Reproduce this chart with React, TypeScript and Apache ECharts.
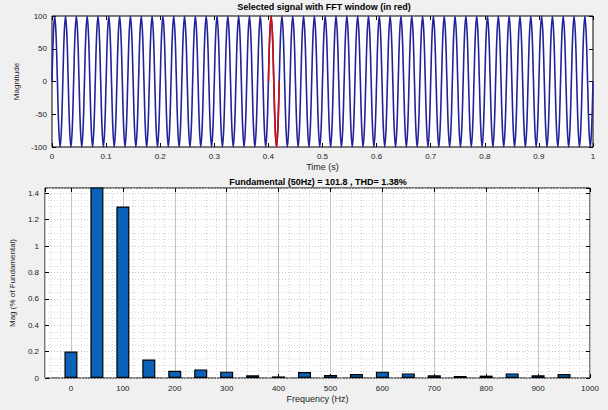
import React, { useEffect, useRef } from "react";
import * as echarts from "echarts";

// ---- Top plot: selected signal (50 Hz, 1 s) ----
const timeMin = 0;
const timeMax = 1;
const cycleShape = [0, 71, 100, 71, 0, -71, -100, -71]; // one cycle
const cycles = 50;
const fftWindowStartCycle = 20; // red window starts at 0.4 s
const fftWindowCycles = 1;
const magTicks = [-100, -50, 0, 50, 100];

// ---- Bottom plot: harmonic spectrum ----
const harmonicFreqs = [0, 50, 100, 150, 200, 250, 300, 350, 400, 450, 500, 550, 600, 650, 700, 750, 800, 850, 900, 950];
const harmonicMags = [0.2, 100, 1.3, 0.14, 0.055, 0.065, 0.048, 0.02, 0.012, 0.045, 0.022, 0.03, 0.048, 0.035, 0.02, 0.015, 0.018, 0.035, 0.02, 0.03];
const freqMin = -50;
const freqMax = 1000;
const harmMax = 1.44;

const topTitle = "Selected signal with FFT window (in red)";
const bottomTitle = "Fundamental (50Hz) = 101.8 , THD= 1.38%";

export default function App() {
  const ref = useRef<HTMLDivElement>(null);
  useEffect(() => {
    if (!ref.current) return;
    const chart = echarts.init(ref.current, undefined, { renderer: "svg" });
    const n = cycleShape.length;
    const step = (timeMax - timeMin) / (cycles * n);
    const signal: number[][] = [];
    const windowData: number[][] = [];
    for (let c = 0; c < cycles; c++) {
      for (let k = 0; k < n; k++) {
        const t = +(timeMin + (c * n + k) * step).toFixed(6);
        signal.push([t, cycleShape[k]]);
        if (c >= fftWindowStartCycle && c < fftWindowStartCycle + fftWindowCycles) windowData.push([t, cycleShape[k]]);
      }
    }
    signal.push([timeMax, cycleShape[0]]);
    windowData.push([+(timeMin + (fftWindowStartCycle + fftWindowCycles) * n * step).toFixed(6), cycleShape[0]]);

    const font = "Liberation Sans, Arial, sans-serif";
    const lbl = { fontSize: 8, color: "#222", fontFamily: font };
    const tick = { inside: true, length: 4, lineStyle: { color: "#000", width: 1 } };
    const noLine = { show: false, onZero: false };

    chart.setOption({
      animation: false,
      backgroundColor: "#f0f0f0",
      textStyle: { fontFamily: font },
      grid: [
        { left: 52, top: 16, width: 541, height: 131, show: true, backgroundColor: "#fff", borderColor: "#000", borderWidth: 1 },
        { left: 45, top: 188, width: 545, height: 190, show: true, backgroundColor: "#fff", borderColor: "#000", borderWidth: 1 },
      ],
      xAxis: [
        {
          type: "value", gridIndex: 0, min: timeMin, max: timeMax, interval: 0.1,
          axisLine: noLine, axisTick: tick,
          axisLabel: { ...lbl, margin: 5, formatter: (v: number) => String(+v.toFixed(1)) },
          splitLine: { show: false },
          name: "Time (s)", nameLocation: "middle", nameGap: 15,
          nameTextStyle: { fontSize: 9, color: "#222", fontFamily: font },
        },
        {
          type: "value", gridIndex: 0, position: "top", min: timeMin, max: timeMax, interval: 0.1,
          axisLine: noLine, axisTick: tick, axisLabel: { show: false }, splitLine: { show: false },
        },
        {
          type: "value", gridIndex: 1, min: freqMin, max: freqMax, splitNumber: 10,
          axisLine: noLine, axisTick: tick,
          axisLabel: { ...lbl, margin: 6, showMinLabel: false, formatter: (v: number) => (v < 0 ? "" : String(v)) },
          splitLine: { show: true, lineStyle: { color: "#c4c4c4", width: 1 } },
          minorTick: { show: false, splitNumber: 5 },
          minorSplitLine: { show: true, lineStyle: { color: "#d4d4d4", type: [1, 2], width: 1 } },
          name: "Frequency (Hz)", nameLocation: "middle", nameGap: 16,
          nameTextStyle: { fontSize: 9, color: "#222", fontFamily: font },
        },
        {
          type: "value", gridIndex: 1, position: "top", min: freqMin, max: freqMax, splitNumber: 10,
          axisLine: noLine, axisTick: tick, axisLabel: { show: false }, splitLine: { show: false },
        },
      ],
      yAxis: [
        {
          type: "value", gridIndex: 0, min: magTicks[0], max: magTicks[magTicks.length - 1], interval: 50,
          axisLine: noLine, axisTick: tick, axisLabel: { ...lbl, margin: 5 },
          splitLine: { show: false },
          name: "Magnitude", nameLocation: "middle", nameGap: 30,
          nameTextStyle: { fontSize: 8, color: "#222", fontFamily: font },
        },
        {
          type: "value", gridIndex: 0, position: "right", min: magTicks[0], max: magTicks[magTicks.length - 1], interval: 50,
          axisLine: noLine, axisTick: tick, axisLabel: { show: false }, splitLine: { show: false },
        },
        {
          type: "value", gridIndex: 1, min: 0, max: harmMax, interval: 0.2,
          axisLine: noLine, axisTick: tick,
          axisLabel: { ...lbl, margin: 6, showMaxLabel: false, formatter: (v: number) => (Math.abs(v * 5 - Math.round(v * 5)) < 1e-6 ? String(+v.toFixed(1)) : "") },
          splitLine: { show: true, lineStyle: { color: "#c8c8c8", type: [1, 2], width: 1 } },
          minorTick: { show: false, splitNumber: 4 },
          minorSplitLine: { show: true, lineStyle: { color: "#d8d8d8", type: [1, 2], width: 1 } },
          name: "Mag (% of Fundamental)", nameLocation: "middle", nameGap: 28,
          nameTextStyle: { fontSize: 8, color: "#222", fontFamily: font },
        },
        {
          type: "value", gridIndex: 1, position: "right", min: 0, max: harmMax, interval: 0.2,
          axisLine: noLine, axisTick: tick, axisLabel: { show: false }, splitLine: { show: false },
        },
      ],
      graphic: [
        { type: "text", x: 324, y: 2, style: { text: topTitle, fontSize: 9, fontWeight: "bold", fill: "#000", textAlign: "center", textVerticalAlign: "top", fontFamily: font } },
        { type: "text", x: 318, y: 177, style: { text: bottomTitle, fontSize: 9, fontWeight: "bold", fill: "#000", textAlign: "center", textVerticalAlign: "top", fontFamily: font } },
      ],
      series: [
        {
          type: "line", xAxisIndex: 0, yAxisIndex: 0, data: signal, smooth: 0.4, showSymbol: false,
          lineStyle: { color: "#22229a", width: 1.6 }, z: 2,
        },
        {
          type: "line", xAxisIndex: 0, yAxisIndex: 0, data: windowData, smooth: 0.4, showSymbol: false,
          lineStyle: { color: "#d01010", width: 1.6 }, z: 3,
        },
        {
          type: "bar", xAxisIndex: 2, yAxisIndex: 2, barWidth: 13,
          data: harmonicFreqs.map((f, i) => [f, harmonicMags[i]]),
          itemStyle: { color: "#0b62b8", borderColor: "#000", borderWidth: 1.2 },
          clip: true,
        },
      ],
    });
    return () => chart.dispose();
  }, []);
  return <div ref={ref} style={{ position: "fixed", left: 0, top: 0, width: 608, height: 410 }} />;
}
